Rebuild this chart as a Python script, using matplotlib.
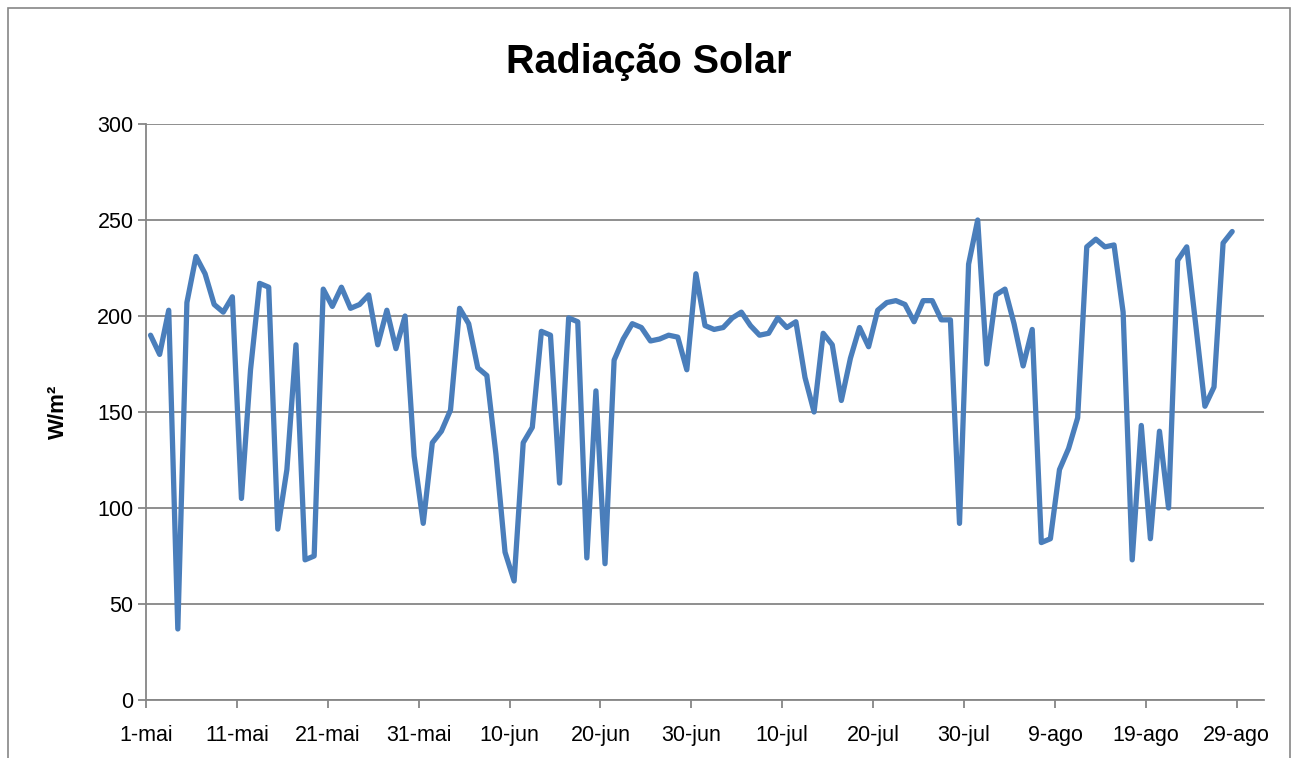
import matplotlib
matplotlib.use("Agg")
import matplotlib.pyplot as plt
import numpy as np
from matplotlib.patches import Rectangle

title = "Radiação Solar"
ylabel = "W/m²"
tick_labels = ["1-mai", "11-mai", "21-mai", "31-mai", "10-jun", "20-jun", "30-jun",
               "10-jul", "20-jul", "30-jul", "9-ago", "19-ago", "29-ago"]
tick_days = [0, 10, 20, 30, 40, 50, 60, 70, 80, 90, 100, 110, 120]
n_axis_days = 123  # 1-mai .. 31-ago
radiacao = [190, 180, 203, 37, 207, 231, 222, 206, 202, 210,
            105, 172, 217, 215, 89, 120, 185, 73, 75, 214,
            205, 215, 204, 206, 211, 185, 203, 183, 200, 127,
            92, 134, 140, 151, 204, 196, 173, 169, 128, 77,
            62, 134, 142, 192, 190, 113, 199, 197, 74, 161,
            71, 177, 188, 196, 194, 187, 188, 190, 189, 172,
            222, 195, 193, 194, 199, 202, 195, 190, 191, 199,
            194, 197, 168, 150, 191, 185, 156, 178, 194, 184,
            203, 207, 208, 206, 197, 208, 208, 198, 198, 92,
            227, 250, 175, 211, 214, 196, 174, 193, 82, 84,
            120, 131, 147, 236, 240, 236, 237, 202, 73, 143,
            84, 140, 100, 229, 236, 195, 153, 163, 238, 244]

W, H = 1298, 758
fig = plt.figure(figsize=(W / 100, H / 100), dpi=100)
ax = fig.add_axes([146 / W, 1 - 700 / H, (1264 - 146) / W, (700 - 124) / H])

# chart border
fig.patches.append(Rectangle((8 / W, -0.05), (1290 - 8) / W, 1.05 - 8 / H,
                             transform=fig.transFigure, fill=False,
                             edgecolor="#868686", linewidth=1.2))

x = np.arange(len(radiacao)) + 0.5
ax.plot(x, radiacao, color="#4A7EBB", linewidth=3.8, solid_joinstyle="round",
        solid_capstyle="round", zorder=3)

ax.set_xlim(0, n_axis_days)
ax.set_ylim(0, 300)
ax.set_yticks(np.arange(0, 301, 50))
ax.set_xticks(tick_days)
ax.set_xticklabels(tick_labels)
ax.yaxis.grid(True, color="#868686", linewidth=1.3)
ax.set_axisbelow(True)

for s in ["top", "right"]:
    ax.spines[s].set_visible(False)
for s in ["left", "bottom"]:
    ax.spines[s].set_color("#868686")
    ax.spines[s].set_linewidth(1.3)

font = "Liberation Sans"
ax.tick_params(axis="both", colors="#868686", length=6, width=1.3,
               labelcolor="black", labelsize=15.5)
ax.tick_params(axis="x", pad=12)
ax.tick_params(axis="y", pad=3)
for lab in ax.get_xticklabels() + ax.get_yticklabels():
    lab.set_fontfamily(font)

ax.set_ylabel(ylabel, fontsize=16, fontweight="bold", fontfamily=font, labelpad=20)
fig.text(649 / W, 1 - 62 / H, title, ha="center", va="center", fontsize=28.5,
         fontweight="bold", fontfamily=font)

fig.savefig("out.png", dpi=100)
